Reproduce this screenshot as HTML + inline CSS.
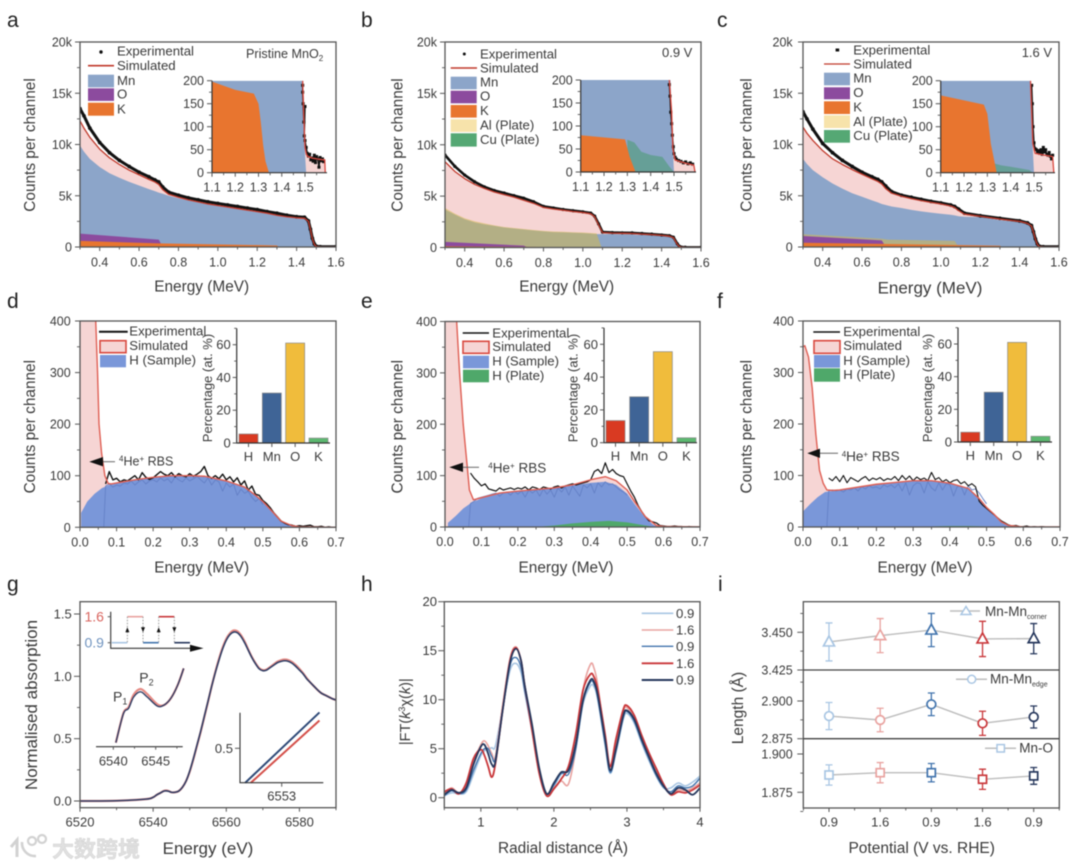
<!DOCTYPE html>
<html lang="en">
<head>
<meta charset="utf-8">
<title>RBS, ERDA and XAS characterisation of MnO2</title>
<style>
html,body{margin:0;padding:0;background:#fff;width:1080px;height:867px;overflow:hidden}
svg{display:block;filter:blur(0.5px)}
text{font-family:"Liberation Sans","Noto Sans CJK SC",sans-serif;fill:#3a3a3a}
.tick{font-size:12.5px}
.lab{font-size:15.4px}
.leg{font-size:13.2px}
.let{font-size:21px;fill:#222}
</style>
</head>
<body>
<svg id="fig" width="1080" height="867" viewBox="0 0 1080 867" xmlns="http://www.w3.org/2000/svg">
<rect width="1080" height="867" fill="#fff"/>
<g id="pa"></g>
<g id="pb"></g>
<g id="pc"></g>
<g id="pd"></g>
<g id="pe"></g>
<g id="pf"></g>
<g id="pg"></g>
<g id="ph"></g>
<g id="pi"></g>

<g>
<text class="let" x="7" y="27">a</text>
<text class="let" x="361" y="27">b</text>
<text class="let" x="717" y="27">c</text>
<text class="let" x="7" y="308">d</text>
<text class="let" x="361" y="308">e</text>
<text class="let" x="717" y="308">f</text>
<text class="let" x="7" y="591">g</text>
<text class="let" x="361" y="591">h</text>
<text class="let" x="718" y="591">i</text>
</g>

<g>
<text class="lab" transform="rotate(-90 35 145)" x="35" y="145" text-anchor="middle">Counts per channel</text>
<text class="lab" transform="rotate(-90 402.7 145)" x="402.7" y="145" text-anchor="middle">Counts per channel</text>
<text class="lab" transform="rotate(-90 751.7 145)" x="751.7" y="145" text-anchor="middle">Counts per channel</text>
<text class="lab" x="201.7" y="291.7" text-anchor="middle">Energy (MeV)</text>
<text class="lab" x="566.7" y="291.7" text-anchor="middle">Energy (MeV)</text>
<text class="lab" style="font-size:17px" x="930" y="293.3" text-anchor="middle">Energy (MeV)</text>
<text class="lab" transform="rotate(-90 35 426.7)" x="35" y="426.7" text-anchor="middle">Counts per channel</text>
<text class="lab" transform="rotate(-90 402.7 426.7)" x="402.7" y="426.7" text-anchor="middle">Counts per channel</text>
<text class="lab" transform="rotate(-90 751.7 426.7)" x="751.7" y="426.7" text-anchor="middle">Counts per channel</text>
<text class="lab" x="201.7" y="572.7" text-anchor="middle">Energy (MeV)</text>
<text class="lab" x="566" y="572.7" text-anchor="middle">Energy (MeV)</text>
<text class="lab" x="925" y="572.7" text-anchor="middle">Energy (MeV)</text>
<text style="font-size:17px" transform="rotate(-90 37 705)" x="37" y="705" text-anchor="middle">Normalised absorption</text>
<text style="font-size:17px" x="208" y="854" text-anchor="middle">Energy (eV)</text>
<text style="font-size:14.5px" transform="rotate(-90 410 711.7)" x="410" y="711.7" text-anchor="middle">|FT(<tspan font-style="italic">k</tspan><tspan font-size="9" baseline-shift="super">3</tspan>χ(<tspan font-style="italic">k</tspan>)|</text>
<text class="lab" x="563" y="853" text-anchor="middle">Radial distance (Å)</text>
<text style="font-size:15.5px" transform="rotate(-90 743 708)" x="743" y="708" text-anchor="middle">Length (Å)</text>
<text style="font-size:15.5px" x="921.7" y="853" text-anchor="middle">Potential (V vs. RHE)</text>
<text transform="rotate(-90 212 388)" x="212" y="388" text-anchor="middle" style="font-size:13px">Percentage (at. %)</text>
<text transform="rotate(-90 577.5 388)" x="577.5" y="388" text-anchor="middle" style="font-size:13px">Percentage (at. %)</text>
<text transform="rotate(-90 932 388)" x="932" y="388" text-anchor="middle" style="font-size:13px">Percentage (at. %)</text>
</g>

<g>
<circle cx="101" cy="52" r="1.7" fill="#111"/>
<text class="leg" x="117" y="55.7">Experimental</text>
<line x1="88" x2="114" y1="65.7" y2="65.7" stroke="#c0392b" stroke-width="1.6"/>
<text class="leg" x="117" y="70">Simulated</text>
<rect x="88" y="74.7" width="26" height="12.6" fill="#8ca5c9"/>
<text class="leg" x="117" y="85">Mn</text>
<rect x="88" y="88.3" width="26" height="12.6" fill="#8c4b9e"/>
<text class="leg" x="117" y="98.5">O</text>
<rect x="88" y="102.7" width="26" height="13" fill="#e8752f"/>
<text class="leg" x="117" y="113.3">K</text>
<text x="246" y="58" style="font-size:12.6px">Pristine MnO<tspan font-size="8" dy="3">2</tspan></text>
</g>
<g>
<circle cx="464.3" cy="54" r="1.5" fill="#111"/>
<text class="leg" x="480" y="58.3">Experimental</text>
<line x1="450.7" x2="477" y1="68" y2="68" stroke="#c0392b" stroke-width="1.6"/>
<text class="leg" x="480" y="72.7">Simulated</text>
<rect x="450.7" y="76.7" width="26" height="12.6" fill="#8ca5c9"/>
<text class="leg" x="480" y="86.7">Mn</text>
<rect x="450.7" y="90.7" width="26" height="12.6" fill="#8c4b9e"/>
<text class="leg" x="480" y="100.7">O</text>
<rect x="450.7" y="105" width="26" height="12.6" fill="#e8752f"/>
<text class="leg" x="480" y="115">K</text>
<rect x="450.7" y="119.3" width="26" height="12.6" fill="#f7e3ab"/>
<text class="leg" x="480" y="129.3">Al (Plate)</text>
<rect x="450.7" y="133.3" width="26" height="13.3" fill="#55a874"/>
<text class="leg" x="480" y="144">Cu (Plate)</text>
<text x="662" y="57" style="font-size:13px">0.9 V</text>
</g>
<g>
<rect x="835.6" y="48.5" width="3.6" height="3" fill="#111"/>
<text class="leg" x="853.3" y="54.3">Experimental</text>
<line x1="824" x2="850" y1="64" y2="64" stroke="#c0392b" stroke-width="1.2"/>
<text class="leg" x="853.3" y="68.3">Simulated</text>
<rect x="824" y="72.7" width="26" height="12.6" fill="#8ca5c9"/>
<text class="leg" x="853.3" y="82.7">Mn</text>
<rect x="824" y="87.3" width="26" height="12" fill="#8c4b9e"/>
<text class="leg" x="853.3" y="97">O</text>
<rect x="824" y="101.3" width="26" height="12.7" fill="#e8752f"/>
<text class="leg" x="853.3" y="111.7">K</text>
<rect x="824" y="115.3" width="26" height="12.7" fill="#f7e3ab"/>
<text class="leg" x="853.3" y="126">Al (Plate)</text>
<rect x="824" y="130" width="26" height="12.7" fill="#55a874"/>
<text class="leg" x="853.3" y="140">Cu (Plate)</text>
<text x="1021.7" y="57" style="font-size:13px">1.6 V</text>
</g>
<g>
<line x1="99" x2="127.7" y1="331.7" y2="331.7" stroke="#111" stroke-width="2"/>
<text class="leg" x="129.3" y="335.7">Experimental</text>
<rect x="100" y="340.7" width="26" height="12" fill="#f6d5d4" stroke="#d9483e" stroke-width="1.6"/>
<text class="leg" x="129.3" y="350">Simulated</text>
<rect x="100" y="355" width="26" height="12.3" fill="#7a97d9"/>
<text class="leg" x="129.3" y="364.3">H (Sample)</text>
<path d="M89.3 461.7 L103 457 L103 466.4 Z" fill="#111"/>
<line x1="103" x2="115" y1="461.7" y2="461.7" stroke="#666"/>
<text x="119" y="465.7" style="font-size:12.5px"><tspan font-size="8" dy="-4">4</tspan><tspan dy="4">He</tspan><tspan font-size="8" dy="-4">+</tspan><tspan dy="4"> RBS</tspan></text>
</g>
<g>
<line x1="462.7" x2="489" y1="333" y2="333" stroke="#111" stroke-width="1.6"/>
<text class="leg" x="492.3" y="337.3">Experimental</text>
<rect x="463" y="341.3" width="26" height="12" fill="#f6d5d4" stroke="#d9483e" stroke-width="1.6"/>
<text class="leg" x="492.3" y="351">Simulated</text>
<rect x="463" y="355.7" width="26" height="12.6" fill="#7a97d9"/>
<text class="leg" x="492.3" y="365.7">H (Sample)</text>
<rect x="463" y="369.7" width="26" height="12.6" fill="#4fa86a"/>
<text class="leg" x="492.3" y="380">H (Plate)</text>
<path d="M449.3 467.3 L463 462.6 L463 472 Z" fill="#111"/>
<line x1="463" x2="479" y1="467.3" y2="467.3" stroke="#666"/>
<text x="488.3" y="472.3" style="font-size:13.5px"><tspan font-size="8" dy="-4">4</tspan><tspan dy="4">He</tspan><tspan font-size="8" dy="-4">+</tspan><tspan dy="4"> RBS</tspan></text>
</g>
<g>
<line x1="813.3" x2="840" y1="332" y2="332" stroke="#111" stroke-width="1.6"/>
<text class="leg" x="843.3" y="336">Experimental</text>
<rect x="814" y="340.7" width="26" height="12.6" fill="#f6d5d4" stroke="#d9483e" stroke-width="1.6"/>
<text class="leg" x="843.3" y="350">Simulated</text>
<rect x="814" y="355" width="26" height="12.6" fill="#7a97d9"/>
<text class="leg" x="843.3" y="365">H (Sample)</text>
<rect x="814" y="368.3" width="26" height="13.4" fill="#4fa86a"/>
<text class="leg" x="843.3" y="379">H (Plate)</text>
<path d="M807.3 453.3 L820 448.6 L820 458 Z" fill="#111"/>
<line x1="820" x2="838" y1="453.3" y2="453.3" stroke="#666"/>
<text x="841.7" y="461" style="font-size:13.5px"><tspan font-size="8" dy="-4">4</tspan><tspan dy="4">He</tspan><tspan font-size="8" dy="-4">+</tspan><tspan dy="4"> RBS</tspan></text>
</g>
<g>
<text x="113" y="701.7" style="font-size:14px">P<tspan font-size="9" dy="3">1</tspan></text>
<text x="139.3" y="682.7" style="font-size:14px">P<tspan font-size="9" dy="3">2</tspan></text>
<text x="84.5" y="621.5" style="font-size:14px;fill:#d9655f">1.6</text>
<text x="84.5" y="647.5" style="font-size:14px;fill:#6f93bf">0.9</text>
</g>
<g>
<line x1="641.7" x2="673.3" y1="613.3" y2="613.3" stroke="#a9c6e3" stroke-width="1.6"/>
<text class="leg" x="676" y="618">0.9</text>
<line x1="641.7" x2="673.3" y1="630" y2="630" stroke="#e9a3a0" stroke-width="1.6"/>
<text class="leg" x="676" y="634.7">1.6</text>
<line x1="641.7" x2="673.3" y1="646.3" y2="646.3" stroke="#4274ad" stroke-width="1.4"/>
<text class="leg" x="676" y="651">0.9</text>
<line x1="641.7" x2="673.3" y1="663.3" y2="663.3" stroke="#c9373a" stroke-width="1.9"/>
<text class="leg" x="676" y="668">1.6</text>
<line x1="641.7" x2="673.3" y1="680" y2="680" stroke="#26375c" stroke-width="1.9"/>
<text class="leg" x="676" y="684.7">0.9</text>
</g>
<g>
<line x1="950" x2="980" y1="611" y2="611" stroke="#bdbdbd" stroke-width="1.5"/>
<path d="M966 606.5 L971 614.5 L961 614.5 Z" fill="#fff" stroke="#a9c6e3" stroke-width="1.5"/>
<text x="985" y="616" style="font-size:13.5px">Mn-Mn<tspan font-size="7" dy="3">corner</tspan></text>
<line x1="956" x2="987" y1="679.3" y2="679.3" stroke="#bdbdbd" stroke-width="1.5"/>
<circle cx="971.7" cy="679.3" r="4" fill="#fff" stroke="#a9c6e3" stroke-width="1.5"/>
<text x="990" y="683.3" style="font-size:13.5px">Mn-Mn<tspan font-size="7" dy="3">edge</tspan></text>
<line x1="985" x2="1016" y1="748.3" y2="748.3" stroke="#bdbdbd" stroke-width="1.5"/>
<rect x="997" y="744.6" width="7.4" height="7.4" fill="#fff" stroke="#a9c6e3" stroke-width="1.5"/>
<text x="1019.3" y="752.7" style="font-size:13.5px">Mn-O</text>
</g>
<g>
<path d="M11 847 L17 840 L17 857" fill="none" stroke="#d2d2d2" stroke-width="3"/>
<circle cx="32" cy="841" r="4" fill="none" stroke="#d2d2d2" stroke-width="2.2"/>
<circle cx="42" cy="839" r="4" fill="none" stroke="#d2d2d2" stroke-width="2.2"/>
<path d="M22 842 A13 13 0 0 0 36 856" fill="none" stroke="#d2d2d2" stroke-width="2.6"/>
<text x="52" y="857" style="font-size:22px;font-weight:700;fill:#e0e0e0;stroke:#cfcfcf;stroke-width:0.4">大数跨境</text>
</g>
</svg>

<script>
/* ---------- panel a data (counts in thousands) ---------- */
const aEnergy=[0.3,0.32,0.35,0.4,0.45,0.5,0.55,0.6,0.65,0.68,0.7,0.72,0.75,0.8,0.85,0.9,0.95,1.0,1.05,1.1,1.15,1.2,1.25,1.3,1.35,1.4,1.44,1.46,1.47,1.48,1.49,1.5,1.52,1.6];
const aExperimental=[13.5,12.8,11.6,10.2,9.2,8.45,7.85,7.3,6.85,6.55,6.35,5.85,5.35,5.05,4.8,4.6,4.4,4.25,4.1,3.95,3.8,3.65,3.45,3.3,3.1,2.95,2.9,2.55,1.75,0.85,0.3,0.08,0.03,0.02];
const aSimulated=[12.3,11.6,10.7,9.55,8.7,8.05,7.5,7.05,6.6,6.35,6.1,5.6,5.15,4.85,4.6,4.4,4.2,4.05,3.9,3.75,3.6,3.45,3.3,3.1,2.95,2.85,2.8,2.5,1.7,0.8,0.25,0.05,0.01,0];
const aMn=[9.9,9.3,8.6,7.8,7.2,6.75,6.35,6.0,5.65,5.45,5.3,5.2,5.0,4.75,4.55,4.35,4.15,4.0,3.85,3.7,3.55,3.4,3.25,3.05,2.9,2.8,2.72,2.4,1.5,0.6,0.1,0,0,0];
const aOEnergy=[0.3,0.7,0.72];
const aO=[1.3,0.72,0];
const aKEnergy=[0.3,0.7,1.3,1.31];
const aK=[0.6,0.35,0.15,0];
/* panel a inset */
const iaMnEnergy=[1.1,1.49,1.495,1.5,1.505];
const iaMn=[200,200,130,40,0];
const iaKEnergy=[1.1,1.2,1.28,1.3,1.31,1.32,1.33,1.345];
const iaK=[198,180,172,150,110,60,25,0];
const iaSimEnergy=[1.49,1.495,1.498,1.5,1.505,1.51,1.53,1.55,1.58,1.585,1.587];
const iaSim=[200,120,80,55,42,36,32,30,28,28,0];
const iaExpEnergy=[1.49,1.49,1.492,1.495,1.5,1.497,1.5,1.505,1.51,1.515,1.52,1.525,1.53,1.535,1.54,1.545,1.55,1.555,1.56,1.565,1.57,1.575,1.58];
const iaExp=[190,175,150,110,144,80,70,55,42,36,40,28,32,25,38,22,35,30,12,33,26,30,24];

/* ---------- panel b data ---------- */
const bEnergy=[0.3,0.35,0.4,0.45,0.5,0.55,0.6,0.65,0.7,0.75,0.8,0.85,0.9,0.95,1.0,1.04,1.06,1.08,1.1,1.15,1.2,1.25,1.3,1.35,1.4,1.44,1.46,1.48,1.49,1.5,1.52,1.6];
const bExperimental=[9.0,7.9,7.05,6.4,5.9,5.55,5.3,5.05,4.8,4.45,4.0,3.85,3.7,3.58,3.47,3.35,3.05,2.3,1.5,1.45,1.43,1.42,1.36,1.3,1.22,1.15,1.0,0.35,0.12,0.04,0.02,0.01];
const bSimulated=[8.35,7.4,6.7,6.15,5.75,5.4,5.15,4.9,4.6,4.3,3.9,3.75,3.63,3.5,3.4,3.28,3.0,2.2,1.45,1.4,1.38,1.36,1.3,1.25,1.18,1.1,0.95,0.3,0.1,0.03,0.01,0];
const bMn=[3.7,3.2,2.75,2.45,2.25,2.1,1.95,1.85,1.75,1.65,1.57,1.5,1.47,1.43,1.4,1.35,1.32,1.3,1.3,1.3,1.28,1.25,1.22,1.17,1.1,1.02,0.88,0.22,0.06,0,0,0];
const bAlEnergy=[0.3,0.35,0.4,0.45,0.5,0.55,0.6,0.65,0.7,0.75,0.8,0.85,0.9,0.95,1.0,1.07,1.095];
const bAl=[3.85,3.3,2.85,2.55,2.35,2.15,2.0,1.9,1.8,1.7,1.62,1.56,1.53,1.49,1.46,1.37,0];
const bOEnergy=[0.3,0.7,0.72];
const bO=[0.55,0.18,0];
const bKEnergy=[0.3,0.97,0.98];
const bK=[0.12,0.03,0];
/* panel b inset */
const ibMnEnergy=[1.1,1.485,1.49,1.495,1.5];
const ibMn=[200,200,130,50,0];
const ibKEnergy=[1.1,1.29,1.31,1.335];
const ibK=[80,71,33,0];
const ibCuEnergy=[1.3,1.33,1.36,1.4,1.45,1.48,1.5];
const ibCu=[70,64,44,37,33,12,0];
const ibSimEnergy=[1.48,1.49,1.495,1.505,1.55,1.585,1.59];
const ibSim=[200,130,50,26,19,15,0];
const ibExpEnergy=[1.48,1.483,1.486,1.49,1.493,1.497,1.5,1.505,1.51,1.52,1.53,1.54,1.55,1.56,1.57,1.58];
const ibExp=[190,165,130,105,80,55,40,32,28,25,23,20,22,18,20,17];

/* ---------- panel c data ---------- */
const cEnergy=[0.3,0.32,0.35,0.4,0.45,0.5,0.55,0.6,0.65,0.68,0.7,0.72,0.75,0.8,0.85,0.9,0.95,1.0,1.05,1.07,1.09,1.12,1.2,1.3,1.4,1.44,1.46,1.47,1.48,1.49,1.5,1.52,1.6];
const cExperimental=[13.2,12.5,11.5,10.1,9.2,8.45,7.85,7.3,6.85,6.6,6.35,5.95,5.4,5.05,4.85,4.65,4.45,4.3,4.1,3.95,3.7,3.3,3.05,2.8,2.55,2.35,2.1,1.5,0.8,0.3,0.07,0.03,0.02];
const cSimulated=[11.7,11.1,10.4,9.4,8.6,8.05,7.55,7.1,6.65,6.4,6.15,5.7,5.25,4.95,4.72,4.52,4.35,4.2,4.0,3.85,3.55,3.2,3.0,2.72,2.5,2.3,2.05,1.45,0.75,0.25,0.05,0.01,0];
const cMn=[8.6,8.1,7.5,6.8,6.2,5.7,5.25,4.9,4.55,4.35,4.2,4.1,3.95,3.8,3.62,3.47,3.35,3.25,3.15,3.08,3.0,2.95,2.9,2.62,2.4,2.2,1.95,1.35,0.65,0.15,0,0,0];
const cAlEnergy=[0.3,0.7,0.73,1.07,1.09];
const cAl=[1.25,0.8,0.72,0.6,0];
const cOEnergy=[0.3,0.7,0.72];
const cO=[1.07,0.65,0];
const cKEnergy=[0.3,0.7,1.3,1.31];
const cK=[0.42,0.3,0.12,0];
/* panel c inset */
const icMnEnergy=[1.1,1.485,1.49,1.495,1.5];
const icMn=[200,200,120,50,0];
const icKEnergy=[1.1,1.285,1.3,1.315,1.34];
const icK=[168,148,128,63,0];
const icCuEnergy=[1.33,1.36,1.4,1.48,1.495];
const icCu=[20,16,13,6,0];
const icSimEnergy=[1.485,1.49,1.495,1.505,1.58,1.585];
const icSim=[200,130,63,42,35,0];
const icExpEnergy=[1.49,1.493,1.496,1.5,1.505,1.51,1.515,1.52,1.525,1.53,1.535,1.54,1.545,1.55,1.555,1.56,1.565,1.57,1.575,1.58];
const icExp=[190,150,100,65,52,50,45,48,42,50,40,55,45,50,40,38,44,36,30,38];

/* ---------- shared axis labels ---------- */
const rbsEnergyTicks=[0.4,0.6,0.8,1.0,1.2,1.4,1.6];
const rbsCountTicks=[0,5,10,15,20];
const rbsCountLabels=['0','5k','10k','15k','20k'];
const insetEnergyTicks=[1.1,1.2,1.3,1.4,1.5];
const insetCountTicks=[0,50,100,150,200];
const hEnergyTicks=[0,0.1,0.2,0.3,0.4,0.5,0.6,0.7];
const hCountTicks=[0,100,200,300,400];
const barCategories=['H','Mn','O','K'];
const barTicks=[0,20,40,60];

/* ---------- ERDA panels d e f ---------- */
const hExpEnergy=[0.07,0.08,0.09,0.10,0.11,0.12,0.13,0.14,0.15,0.16,0.17,0.18,0.19,0.20,0.21,0.22,0.23,0.24,0.25,0.26,0.27,0.28,0.29,0.30,0.31,0.32,0.33,0.34,0.35,0.36,0.37,0.38,0.39,0.40,0.41,0.42,0.43,0.44,0.45,0.46,0.47,0.48,0.49,0.50,0.51,0.52,0.53,0.54,0.55,0.56,0.57,0.58,0.59,0.60,0.61,0.62,0.63,0.64,0.65,0.66,0.67,0.68,0.69,0.70];
const hTraceEnergy=[0.065,0.07,0.08,0.09,0.10,0.11,0.12,0.13,0.14,0.15,0.16,0.17,0.18,0.19,0.20,0.21,0.22,0.23,0.24,0.25,0.26,0.27,0.28,0.29,0.30,0.31,0.32,0.33,0.34,0.35,0.36,0.37,0.38,0.39,0.40,0.41,0.42,0.43,0.44,0.45,0.46,0.47,0.48,0.49,0.50];

const dExp=[84,108,92,95,88,92,90,95,100,92,106,97,93,96,102,108,103,100,106,98,104,100,98,104,99,103,108,118,100,95,100,94,103,92,98,88,96,82,90,72,80,64,62,52,46,38,28,20,12,8,5,4,2,3,2,3,4,1,1,2,0,1,0,0];
const dTrace=[0,80,84,78,82,80,86,84,90,82,88,92,84,90,92,88,96,90,94,86,98,92,88,96,90,94,99,92,86,96,82,92,88,70,86,78,84,62,74,66,70,58,50,56,44];
const dSimEnergy=[0,0.043,0.048,0.052,0.059,0.068,0.077,0.085,0.1,0.15,0.2,0.25,0.3,0.34,0.4,0.45,0.48,0.5,0.52,0.55,0.58,0.6,0.7];
const dSim=[700,400,300,200,144,100,85,84,86,92,97,100,100,99,90,78,62,50,35,12,3,1,0];
const dSampleEnergy=[0.003,0.02,0.04,0.06,0.08,0.1,0.15,0.2,0.25,0.3,0.34,0.4,0.45,0.48,0.5,0.52,0.55,0.58,0.6];
const dSample=[28,50,65,76,82,85,91,96,99,99,98,89,77,61,49,34,11,2,0];
const dBars=[5.5,30.5,61,3];

const eExp=[105,95,88,80,84,74,72,70,76,72,74,76,73,76,74,78,72,78,76,73,78,76,74,78,80,76,80,82,84,82,84,86,88,92,108,112,104,125,106,112,104,100,98,84,70,58,42,30,20,12,10,8,3,2,1,1,2,1,1,0,1,0,0,0];
const eTrace=[0,46,50,56,58,60,62,64,66,60,66,68,62,70,64,70,58,72,66,72,60,74,64,72,58,76,68,78,62,80,70,60,82,76,84,66,86,78,88,82,84,78,72,68,62];
const eSimEnergy=[0,0.032,0.04,0.05,0.061,0.067,0.078,0.1,0.15,0.2,0.3,0.35,0.4,0.44,0.47,0.5,0.52,0.55,0.58,0.6,0.7];
const eSim=[800,400,300,200,118,72,53,57,66,70,76,82,92,98,90,72,50,20,3,1,0];
const eSampleEnergy=[0.008,0.03,0.05,0.07,0.1,0.15,0.2,0.3,0.35,0.4,0.44,0.47,0.5,0.52,0.55,0.57,0.585];
const eSample=[8,22,36,46,56,66,70,76,81,86,88,82,65,45,18,5,0];
const ePlateEnergy=[0.25,0.3,0.35,0.4,0.45,0.5,0.55,0.575];
const ePlate=[0,3,7,10,12,9,3,0];
const eBars=[13.5,28,55.5,3];

const fExp=[95,90,98,88,100,86,96,92,88,94,98,90,95,92,96,90,94,92,98,90,100,92,99,90,97,92,95,90,106,92,96,88,92,86,90,92,84,88,80,84,78,50,42,36,30,24,18,12,8,4,2,3,1,1,2,0,1,0,1,0,0,0,0,0];
const fTrace=[0,70,72,70,72,68,74,72,76,70,78,74,80,76,78,74,82,78,82,76,84,70,86,62,80,86,84,66,88,76,70,86,72,84,82,60,78,80,62,80,72,74,66,55,45];
const fSimEnergy=[0,0.005,0.015,0.025,0.035,0.045,0.055,0.065,0.08,0.1,0.2,0.3,0.35,0.4,0.45,0.48,0.5,0.52,0.54,0.56,0.6,0.7];
const fSim=[350,352,330,270,180,110,85,72,71,72,83,90,90,85,75,55,38,25,10,3,0,0];
const fSampleEnergy=[0,0.02,0.04,0.06,0.08,0.1,0.2,0.3,0.35,0.4,0.45,0.48,0.5,0.52,0.54,0.56,0.6];
const fSample=[30,45,58,68,70,72,83,90,90,85,75,55,38,25,10,3,0];
const fPlateEnergy=[0.3,0.35,0.4,0.45,0.5,0.53];
const fPlate=[0,1,2,2,1,0];
const fBars=[6,30.5,61,3.5];

/* ---------- panel g data ---------- */
const gEnergy=[6520,6530,6538,6540,6541,6542,6543,6544,6545,6546,6547,6548,6549,6550,6551,6552,6553,6554,6555,6556,6557,6558,6559,6560,6561,6562,6563,6564,6565,6566,6567,6568,6569,6570,6571,6572,6573,6574,6575,6576,6577,6578,6579,6580,6581,6582,6583,6584,6585,6586,6587,6588,6589,6590];
const gLow=[0,0.002,0.015,0.03,0.05,0.065,0.08,0.08,0.07,0.07,0.08,0.11,0.16,0.24,0.34,0.45,0.56,0.68,0.80,0.92,1.03,1.13,1.22,1.29,1.335,1.355,1.35,1.32,1.27,1.21,1.15,1.10,1.06,1.045,1.05,1.07,1.09,1.11,1.12,1.125,1.12,1.105,1.08,1.05,1.02,0.98,0.95,0.92,0.89,0.865,0.85,0.835,0.82,0.81];
const gHigh=[0,0.002,0.015,0.03,0.05,0.065,0.082,0.083,0.07,0.07,0.08,0.11,0.16,0.235,0.335,0.445,0.555,0.675,0.795,0.92,1.035,1.14,1.23,1.3,1.345,1.368,1.362,1.33,1.28,1.215,1.155,1.105,1.065,1.05,1.055,1.075,1.097,1.118,1.13,1.135,1.13,1.115,1.09,1.06,1.025,0.985,0.95,0.92,0.89,0.865,0.85,0.835,0.82,0.81];
const gEnergyTicks=[6520,6540,6560,6580];
const gAbsTicks=[0,0.5,1.0,1.5];
const preEnergy=[6540.3,6541.2,6541.8,6542.4,6543.2,6544,6545.2,6546,6546.8,6547.6,6548.3];
const preLow=[0.03,0.081,0.09,0.11,0.119,0.11,0.094,0.096,0.108,0.131,0.16];
const preHigh=[0.03,0.082,0.092,0.114,0.124,0.115,0.097,0.096,0.108,0.131,0.16];
const zoomEnergyLow=[6552.1,6553.93];
const zoomAbsLow=[0.397,0.607];
const zoomEnergyHigh=[6552.24,6553.93];
const zoomAbsHigh=[0.397,0.583];
const stepPotentials=[0.9,1.6,0.9,1.6,0.9];

/* ---------- panel h data ---------- */
const radial=[0.5,0.6,0.7,0.8,0.9,1.0,1.05,1.1,1.15,1.2,1.3,1.4,1.48,1.55,1.6,1.7,1.8,1.9,2.0,2.1,2.2,2.3,2.4,2.5,2.55,2.6,2.7,2.77,2.85,2.95,3.0,3.1,3.2,3.3,3.4,3.5,3.6,3.7,3.8,3.9,4.0];
const ftLight=[0.2,0.5,0.4,0.6,2.4,4.3,4.8,5,5.1,5.3,9.2,13,13.7,12.8,10.8,6.8,2.8,0.4,1.2,2.4,2.8,5.2,9.6,11.4,11.3,10,5.4,2.5,4.6,8,8.6,7.6,5.6,3.8,2.2,1,1,1.5,1.2,1.6,2.2];
const ftPink=[0.5,1,0.5,1.2,3.6,5.4,5.8,5.3,4.5,4.2,9.5,14.2,15.4,14,11.3,6.8,2.4,0.2,1,1.7,1.4,5,11,13.6,13.2,11.5,6,3.1,5.6,8.8,9.2,8,6,4.2,2.6,1.2,0.4,0.8,0.7,1,1.5];
const ftBlue=[0.2,0.7,0.4,0.8,2.8,4.5,5,5,4.2,4,9,13.5,14.3,13.3,11,7,2.9,0.4,1.3,2.5,2.4,5,9.8,11.8,11.6,10.2,5.6,2.6,4.8,8.2,8.8,7.8,5.8,4,2.3,1.1,0.6,1.2,1.0,1.2,2];
const ftRed=[0.6,0.9,0.4,1.5,4,4.9,4.3,3.2,2.1,3.5,9,14,15.3,14,11.5,7,2.5,0.2,0.9,1.9,3.2,6.5,11,12.6,12.3,11,6.5,3.2,6,9,9.4,8.4,6.4,4.6,3,1.4,0.3,0.6,0.5,0.8,1.3];
const ftNavy=[0.3,0.8,0.5,1.0,3.4,5.2,5.4,4.5,3.4,3.7,9,13.8,15.2,14,11.5,7.5,3,0.4,1.5,2.6,2.8,5.5,10,12,11.8,10.5,6,2.8,5,8.4,8.9,8,6,4.2,2.5,1.2,0.4,1,0.8,0.3,1];
const radialTicks=[1,2,3,4];
const ftTicks=[0,5,10,15,20];

/* ---------- panel i data ---------- */
const potentials=['0.9','1.6','0.9','1.6','0.9'];
const cornerLen=[3.4436,3.4478,3.4515,3.4456,3.4458];
const cornerErr=[0.0126,0.0113,0.011,0.0117,0.01];
const edgeLen=[2.890,2.8874,2.8978,2.8852,2.8894];
const edgeErr=[0.009,0.0078,0.0075,0.008,0.0073];
const moLen=[1.8863,1.8878,1.8878,1.8835,1.8857];
const moErr=[0.0066,0.0066,0.006,0.0066,0.0055];

/* ---------- styles ---------- */
const AX='#555';
const PINK='#f6d5d4', RED='#c0392b', MN='#8ca5c9', OX='#8c4b9e', KK='#e8752f', ALFILL='#d4b84c', HB='#7a97d9', HG='#4fa86a';
const CYCLE=['#a9c6e3','#e9a3a0','#4274ad','#c9373a','#26375c'];
const NS='http://www.w3.org/2000/svg';

function lin(d0,d1,r0,r1){return v=>r0+(v-d0)/(d1-d0)*(r1-r0);}
function mk(parent,tag,attrs){
  const el=document.createElementNS(NS,tag);
  for(const k in attrs)el.setAttribute(k,attrs[k]);
  parent.appendChild(el);
  return el;
}
function linePath(xs,ys,sx,sy){
  return xs.map((x,i)=>(i?'L':'M')+sx(x).toFixed(2)+' '+sy(ys[i]).toFixed(2)).join('');
}
function areaPath(xs,ys,sx,sy){
  return linePath(xs,ys,sx,sy)+'L'+sx(xs[xs.length-1]).toFixed(2)+' '+sy(0).toFixed(2)+'L'+sx(xs[0]).toFixed(2)+' '+sy(0).toFixed(2)+'Z';
}
function smoothPath(xs,ys,sx,sy){
  const p=xs.map((x,i)=>[sx(x),sy(ys[i])]);
  let d='M'+p[0][0].toFixed(2)+' '+p[0][1].toFixed(2);
  for(let i=0;i<p.length-1;i++){
    const a=p[Math.max(i-1,0)],b=p[i],c=p[i+1],e=p[Math.min(i+2,p.length-1)];
    d+='C'+(b[0]+(c[0]-a[0])/6).toFixed(2)+' '+(b[1]+(c[1]-a[1])/6).toFixed(2)+' '+(c[0]-(e[0]-b[0])/6).toFixed(2)+' '+(c[1]-(e[1]-b[1])/6).toFixed(2)+' '+c[0].toFixed(2)+' '+c[1].toFixed(2);
  }
  return d;
}
let clipCount=0;
function clipGroup(parent,l,t,r,b){
  const id='clip'+(clipCount++);
  const cp=mk(parent,'clipPath',{id:id});
  mk(cp,'rect',{x:l,y:t,width:r-l,height:b-t});
  return mk(parent,'g',{'clip-path':'url(#'+id+')'});
}
function fillArea(g,xs,ys,sx,sy,color,name,opacity){
  const el=mk(g,'path',{d:areaPath(xs,ys,sx,sy),fill:color,'fill-opacity':opacity===undefined?1:opacity});
  
  
  return el;
}
function strokeLine(g,d,color,width,name){
  const el=mk(g,'path',{d:d,fill:'none',stroke:color,'stroke-width':width,'stroke-linejoin':'round'});
  
  
  return el;
}
function xTicks(g,values,labels,sx,base,len,labelY,size){
  values.forEach((v,i)=>{
    const t=mk(g,'line',{x1:sx(v),x2:sx(v),y1:base,y2:base+len,stroke:AX,'stroke-width':1});
    
    
    const l=mk(g,'text',{x:sx(v),y:labelY,'text-anchor':'middle','font-size':size||12.5});
    l.textContent=labels[i];
    
    
  });
}
function yTicks(g,values,labels,sy,edge,len,labelX,size){
  values.forEach((v,i)=>{
    const t=mk(g,'line',{x1:edge-len,x2:edge,y1:sy(v),y2:sy(v),stroke:AX,'stroke-width':1});
    
    
    const l=mk(g,'text',{x:labelX,y:sy(v)+4.5,'text-anchor':'end','font-size':size||12.5});
    l.textContent=labels[i];
    
    
  });
}
function minorX(g,values,sx,base,len){
  values.forEach(v=>{
    const t=mk(g,'line',{x1:sx(v),x2:sx(v),y1:base,y2:base+len,stroke:AX,'stroke-width':0.9});
    
    
  });
}
function minorY(g,values,sy,edge,len){
  values.forEach(v=>{
    const t=mk(g,'line',{x1:edge-len,x2:edge,y1:sy(v),y2:sy(v),stroke:AX,'stroke-width':0.9});
    
    
  });
}
function frame(g,l,t,r,b){
  const el=mk(g,'rect',{x:l,y:t,width:r-l,height:b-t,fill:'none',stroke:AX,'stroke-width':1.3});
  
  
}
function fmt1(v){return v.toFixed(1);}

/* ---------- RBS panels ---------- */
function rbsPanel(id,box,labelEnd,s){
  const g=document.getElementById(id);
  const sx=lin(0.3,1.6,box.l,box.r), sy=lin(0,20,box.b,box.t);
  const c=clipGroup(g,box.l,box.t,box.r,box.b);
  fillArea(c,s.E,s.sim,sx,sy,PINK,'simulated-fill');
  fillArea(c,s.E,s.mn,sx,sy,MN,'mn-fill');
  if(s.alE)fillArea(c,s.alE,s.al,sx,sy,ALFILL,'al-plate-fill',0.55);
  fillArea(c,s.oE,s.o,sx,sy,OX,'o-fill');
  fillArea(c,s.kE,s.k,sx,sy,KK,'k-fill');
  strokeLine(c,linePath(s.E,s.exp,sx,sy),'#111',s.band,'experimental-band');
  s.E.forEach((e,i)=>{
    const d=mk(c,'circle',{cx:sx(e),cy:sy(s.exp[i]),r:s.band*0.62,fill:'#111'});
    
    
  });
  strokeLine(c,linePath(s.E,s.sim,sx,sy),RED,1.3,'simulated-line');
  frame(g,box.l,box.t,box.r,box.b);
  xTicks(g,rbsEnergyTicks,rbsEnergyTicks.map(fmt1),sx,box.b,4,box.b+19.7);
  minorX(g,[0.3,0.5,0.7,0.9,1.1,1.3,1.5],sx,box.b,2.5);
  yTicks(g,rbsCountTicks,rbsCountLabels,sy,box.l,5,labelEnd);
  minorY(g,[2.5,7.5,12.5,17.5],sy,box.l,3);
}
function rbsInset(id,b,s){
  const g=document.getElementById(id);
  const sx=lin(1.1,1.5,b.l,b.x15), sy=lin(0,200,b.b,b.t);
  const c=clipGroup(g,b.l,b.t,b.r+2,b.b);
  fillArea(c,s.simE,s.sim,sx,sy,PINK,'inset-simulated-fill');
  fillArea(c,s.mnE,s.mn,sx,sy,MN,'inset-mn-fill');
  if(s.cuE)fillArea(c,s.cuE,s.cu,sx,sy,'#669f97','inset-cu-fill');
  fillArea(c,s.kE,s.k,sx,sy,KK,'inset-k-fill');
  strokeLine(c,linePath(s.expE,s.exp,sx,sy),'#111',1.4,'inset-experimental-band');
  s.expE.forEach((e,i)=>{
    const d=mk(c,'rect',{x:sx(e)-1.5,y:sy(s.exp[i])-1.5,width:3,height:3,fill:'#111'});
    
    
  });
  strokeLine(c,linePath(s.simE,s.sim,sx,sy),'#d9483e',1.3,'inset-simulated-line');
  const ax=mk(g,'path',{d:'M'+b.l+' '+b.t+'V'+b.b+'H'+b.r,fill:'none',stroke:'#333','stroke-width':1.2});
  
  
  xTicks(g,insetEnergyTicks,insetEnergyTicks.map(fmt1),sx,b.b,4,b.b+19);
  minorX(g,[1.15,1.25,1.35,1.45,1.55],sx,b.b,2.5);
  yTicks(g,insetCountTicks,insetCountTicks.map(String),sy,b.l,5,b.l-8);
  minorY(g,[25,75,125,175],sy,b.l,3);
}
rbsPanel('pa',{l:80,r:336,t:42,b:247},72,{E:aEnergy,exp:aExperimental,sim:aSimulated,mn:aMn,oE:aOEnergy,o:aO,kE:aKEnergy,k:aK,band:3});
rbsPanel('pb',{l:445,r:701,t:42,b:247.5},437,{E:bEnergy,exp:bExperimental,sim:bSimulated,mn:bMn,alE:bAlEnergy,al:bAl,oE:bOEnergy,o:bO,kE:bKEnergy,k:bK,band:2.6});
rbsPanel('pc',{l:803,r:1059,t:42,b:247},792.7,{E:cEnergy,exp:cExperimental,sim:cSimulated,mn:cMn,alE:cAlEnergy,al:cAl,oE:cOEnergy,o:cO,kE:cKEnergy,k:cK,band:3});
rbsInset('pa',{l:212,x15:305,r:327,t:80.7,b:172.7},{simE:iaSimEnergy,sim:iaSim,mnE:iaMnEnergy,mn:iaMn,kE:iaKEnergy,k:iaK,expE:iaExpEnergy,exp:iaExp});
rbsInset('pb',{l:580.7,x15:674,r:696,t:80,b:172},{simE:ibSimEnergy,sim:ibSim,mnE:ibMnEnergy,mn:ibMn,cuE:ibCuEnergy,cu:ibCu,kE:ibKEnergy,k:ibK,expE:ibExpEnergy,exp:ibExp});
rbsInset('pc',{l:940.7,x15:1034,r:1055,t:80.7,b:172.7},{simE:icSimEnergy,sim:icSim,mnE:icMnEnergy,mn:icMn,cuE:icCuEnergy,cu:icCu,kE:icKEnergy,k:icK,expE:icExpEnergy,exp:icExp});

/* ---------- ERDA panels ---------- */
function erdaPanel(id,box,labelEnd,s){
  const g=document.getElementById(id);
  const sx=lin(0,0.7,box.l,box.r), sy=lin(0,400,box.b,box.t);
  const c=clipGroup(g,box.l,box.t,box.r,box.b);
  fillArea(c,s.simE,s.sim,sx,sy,PINK,'simulated-fill');
  fillArea(c,s.sampleE,s.sample,sx,sy,HB,'h-sample-fill');
  strokeLine(c,linePath(hTraceEnergy,s.trace,sx,sy),'#6480c6',0.9,'experimental-trace-in-fill');
  if(s.plateE)fillArea(c,s.plateE,s.plate,sx,sy,HG,'h-plate-fill');
  strokeLine(c,linePath(hExpEnergy,s.exp,sx,sy),'#111',s.w,'experimental-line');
  strokeLine(c,linePath(s.simE,s.sim,sx,sy),'#df5f54',1.4,'simulated-line');
  frame(g,box.l,box.t,box.r,box.b);
  xTicks(g,hEnergyTicks,hEnergyTicks.map(fmt1),sx,box.b,4,box.b+19);
  minorX(g,[0.05,0.15,0.25,0.35,0.45,0.55,0.65],sx,box.b,2.5);
  yTicks(g,hCountTicks,hCountTicks.map(String),sy,box.l,5,labelEnd);
  minorY(g,[50,150,250,350],sy,box.l,3);
}
function barInset(id,b,values){
  const g=document.getElementById(id);
  const sx=lin(0,3,b.c0,b.c3), sy=lin(0,60,b.b,b.y60);
  const colors=['#d93a22','#3f6496','#f0bc3c','#5cb870'];
  values.forEach((v,i)=>{
    const r=mk(g,'rect',{x:sx(i)-9.5,y:sy(v),width:19,height:sy(0)-sy(v),fill:colors[i],stroke:'#8a8a8a','stroke-width':0.7});
    
    
  });
  const ax=mk(g,'path',{d:'M'+b.l+' '+sy(70)+'V'+b.b+'H'+b.r,fill:'none',stroke:'#333','stroke-width':1.2});
  
  
  yTicks(g,barTicks,barTicks.map(String),sy,b.l,4,b.l-6,13);
  minorY(g,[10,30,50,70],sy,b.l,2.5);
  xTicks(g,[0,1,2,3],barCategories,sx,b.b,4,b.b+18,13);
}
erdaPanel('pd',{l:80,r:336,t:321,b:527.3},70.7,{simE:dSimEnergy,sim:dSim,sampleE:dSampleEnergy,sample:dSample,trace:dTrace,exp:dExp,w:1.4});
erdaPanel('pe',{l:445,r:700,t:321.5,b:527},437,{simE:eSimEnergy,sim:eSim,sampleE:eSampleEnergy,sample:eSample,trace:eTrace,plateE:ePlateEnergy,plate:ePlate,exp:eExp,w:1.2});
erdaPanel('pf',{l:803,r:1060,t:321,b:527},794,{simE:fSimEnergy,sim:fSim,sampleE:fSampleEnergy,sample:fSample,trace:fTrace,plateE:fPlateEnergy,plate:fPlate,exp:fExp,w:1.1});
barInset('pd',{l:236.7,r:330,b:443,y60:344.7,c0:248.5,c3:318.5},dBars);
barInset('pe',{l:604,r:697,b:442.7,y60:344.3,c0:615.5,c3:686.5},eBars);
barInset('pf',{l:958,r:1052,b:442,y60:344,c0:970.3,c3:1040.5},fBars);

/* ---------- panel g ---------- */
(function(){
  const g=document.getElementById('pg');
  const box={l:80,r:336,t:601.7,b:807.7};
  const sx=lin(6520,6590,box.l,box.r), sy=lin(0,1.5,801,614);
  const c=clipGroup(g,box.l,box.t,box.r,box.b);
  strokeLine(c,smoothPath(gEnergy,gHigh,sx,sy),'#e58a84',2.2,'xanes-line-1-6');
  strokeLine(c,smoothPath(gEnergy,gLow,sx,sy),'#2f3f66',1.6,'xanes-line-0-9');
  frame(g,box.l,box.t,box.r,box.b);
  xTicks(g,gEnergyTicks,gEnergyTicks.map(String),sx,box.b,4,826.7,13);
  minorX(g,[6530,6550,6570,6590],sx,box.b,2.5);
  yTicks(g,gAbsTicks,gAbsTicks.map(fmt1),sy,box.l,6,71.7,13);
  minorY(g,[0.25,0.75,1.25],sy,box.l,3);

  /* step schedule inset */
  const stepX=lin(0,5,111.7,190), stepY=lin(0.9,1.6,642.7,616.7);
  stepPotentials.forEach((p,i)=>{
    const seg=mk(g,'line',{x1:stepX(i),x2:stepX(i+1),y1:stepY(p),y2:stepY(p),stroke:CYCLE[i],'stroke-width':1.6});
    
    
    if(i>0){
      const dash=mk(g,'line',{x1:stepX(i),x2:stepX(i),y1:stepY(1.6),y2:stepY(0.9),stroke:'#9a9a9a','stroke-width':1,'stroke-dasharray':'1.5 1.5'});
      
      
      const up=p>stepPotentials[i-1];
      const tipY=stepY(1.25)+(up?-2.5:2.5), baseY=stepY(1.25)+(up?2.5:-2.5);
      const arr=mk(g,'path',{d:'M'+stepX(i)+' '+tipY+'L'+(stepX(i)+2)+' '+baseY+'L'+(stepX(i)-2)+' '+baseY+'Z',fill:'#111'});
      
      
    }
  });
  const sa=mk(g,'path',{d:'M110.7 611.7V648.3H192',fill:'none',stroke:'#333','stroke-width':1.1});
  
  
  const sh=mk(g,'path',{d:'M190 644.8L203.5 648.3L190 651.8Z',fill:'#111'});
  
  
  yTicks(g,[0.9,1.6],['',''],stepY,110.7,3,105);

  /* pre-edge inset */
  const px=lin(6540,6545,113.3,155.7), py=lin(0.03,0.16,742.7,668.4);
  strokeLine(g,smoothPath(preEnergy,preHigh,px,py),'#e58a84',2.2,'pre-edge-line-1-6');
  strokeLine(g,smoothPath(preEnergy,preLow,px,py),'#2f3f66',1.4,'pre-edge-line-0-9');
  const pa=mk(g,'line',{x1:96,x2:182.7,y1:746.7,y2:746.7,stroke:'#333','stroke-width':1.1});
  
  
  xTicks(g,[6540,6545],['6540','6545'],px,746.7,3,765.5,13);
  minorX(g,[6542.5,6547.5],px,746.7,2);

  /* edge zoom inset */
  const zx=lin(6553,6554,281.7,322.3), zy=lin(0.5,0.6,748.3,714.8);
  strokeLine(g,linePath(zoomEnergyHigh,zoomAbsHigh,zx,zy),'#d4504a',2,'edge-zoom-line-1-6');
  strokeLine(g,linePath(zoomEnergyLow,zoomAbsLow,zx,zy),'#2f4a78',2,'edge-zoom-line-0-9');
  const za=mk(g,'path',{d:'M240 712.7V782.7H323.3',fill:'none',stroke:'#333','stroke-width':1.1});
  
  
  yTicks(g,[0.5],['0.5'],zy,240,5,233,13);
  xTicks(g,[6553],['6553'],zx,782.7,4,800.5,13);
})();

/* ---------- panel h ---------- */
(function(){
  const g=document.getElementById('ph');
  const box={l:444.3,r:700,t:601.7,b:807.7};
  const sx=lin(0.5,4,box.l,box.r), sy=lin(0,20,797.7,601.7);
  const c=clipGroup(g,box.l,box.t,box.r,box.b);
  strokeLine(c,smoothPath(radial,ftLight,sx,sy),CYCLE[0],1.6,'ft-line-0-9-first');
  strokeLine(c,smoothPath(radial,ftPink,sx,sy),CYCLE[1],1.6,'ft-line-1-6-first');
  strokeLine(c,smoothPath(radial,ftBlue,sx,sy),CYCLE[2],1.4,'ft-line-0-9-second');
  strokeLine(c,smoothPath(radial,ftRed,sx,sy),CYCLE[3],1.8,'ft-line-1-6-second');
  strokeLine(c,smoothPath(radial,ftNavy,sx,sy),CYCLE[4],1.8,'ft-line-0-9-third');
  frame(g,box.l,box.t,box.r,box.b);
  xTicks(g,radialTicks,radialTicks.map(String),sx,box.b,4,826.7,13);
  minorX(g,[0.5,1.5,2.5,3.5],sx,box.b,2.5);
  yTicks(g,ftTicks,ftTicks.map(String),sy,box.l,6,437,13);
  minorY(g,[2.5,7.5,12.5,17.5],sy,box.l,3);
})();

/* ---------- panel i ---------- */
(function(){
  const g=document.getElementById('pi');
  const box={l:803.3,r:1059.3,t:601.7,b:808};
  const sx=lin(0,4,829,1033.7);
  function marker(kind,x,y,color){
    let el;
    if(kind==='tri')el=mk(g,'path',{d:'M'+x+' '+(y-6)+'L'+(x+5.5)+' '+(y+4)+'L'+(x-5.5)+' '+(y+4)+'Z'});
    if(kind==='cir')el=mk(g,'circle',{cx:x,cy:y,r:4.4});
    if(kind==='sq')el=mk(g,'rect',{x:x-4,y:y-4,width:8,height:8});
    el.setAttribute('fill','#fff');
    el.setAttribute('stroke',color);
    el.setAttribute('stroke-width',1.7);
    
    
  }
  function series(vals,errs,sy,kind){
    strokeLine(g,linePath([0,1,2,3,4],vals,sx,sy),'#bdbdbd',1.4,'bond-length-line');
    vals.forEach((v,i)=>{
      const x=sx(i),top=sy(v+errs[i]),bot=sy(v-errs[i]),col=CYCLE[i];
      const e=mk(g,'path',{d:'M'+(x-3.5)+' '+top+'H'+(x+3.5)+'M'+x+' '+top+'V'+bot+'M'+(x-3.5)+' '+bot+'H'+(x+3.5),fill:'none',stroke:col,'stroke-width':1.3});
      
      
      marker(kind,x,sy(v),col);
    });
  }
  const syTop=lin(3.425,3.45,670,632.3), syMid=lin(2.875,2.9,738.7,701), syBot=lin(1.875,1.9,792.3,754);
  series(cornerLen,cornerErr,syTop,'tri');
  series(edgeLen,edgeErr,syMid,'cir');
  series(moLen,moErr,syBot,'sq');
  frame(g,box.l,box.t,box.r,box.b);
  [670,738.7].forEach(y=>{
    const d=mk(g,'line',{x1:box.l,x2:box.r,y1:y,y2:y,stroke:'#444','stroke-width':1.3});
    
    
  });
  yTicks(g,[3.425,3.45],['3.425','3.450'],syTop,box.l,6,792.7);
  minorY(g,[3.4375,3.4625],syTop,box.l,3);
  yTicks(g,[2.875,2.9],['2.875','2.900'],syMid,box.l,6,792.7);
  minorY(g,[2.8875,2.9125],syMid,box.l,3);
  yTicks(g,[1.875,1.9],['1.875','1.900'],syBot,box.l,6,792.7);
  minorY(g,[1.8875,1.8625],syBot,box.l,3);
  xTicks(g,[0,1,2,3,4],potentials,sx,box.b,4,826.7,13);
  minorX(g,[-0.5,0.5,1.5,2.5,3.5,4.5],sx,box.b,2.5);
})();
</script>
</body>
</html>
